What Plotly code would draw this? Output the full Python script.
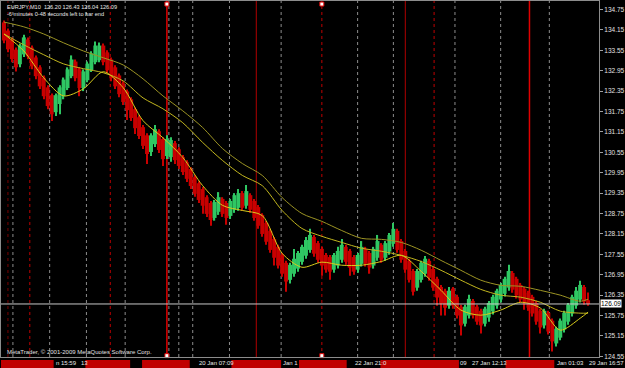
import plotly.graph_objects as go

# ---------------- data ----------------
# each bar below stands for a small group of the original bars (about 4 px of chart width)
bars = list(range(148))

open_ = [134.37,134.13,133.87,133.57,133.14,133.43,133.87,133.63,133.34,133.05,
         132.75,132.46,132.23,131.73,131.97,132.20,132.44,132.79,133.22,132.99,
         132.44,132.67,132.96,133.20,133.26,133.69,133.49,133.28,133.05,132.81,
         132.58,132.34,132.11,131.82,131.58,131.29,131.05,130.56,130.79,131.17,
         130.94,130.44,130.41,130.82,130.64,130.41,130.26,130.06,129.82,129.64,
         129.47,129.23,129.06,128.62,128.80,129.18,129.06,128.68,128.86,128.92,
         129.35,128.98,129.29,129.12,128.94,128.71,128.47,128.24,128.00,127.77,
         127.53,127.30,126.80,126.98,127.13,127.33,127.51,127.68,128.06,127.88,
         127.71,127.53,127.47,127.10,127.22,127.39,127.77,127.65,127.47,127.10,
         127.27,127.71,127.59,127.22,127.45,127.83,127.45,127.63,127.86,128.24,
         127.94,127.65,127.36,127.06,126.57,126.80,126.98,127.36,127.12,126.83,
         126.59,126.48,126.04,126.54,126.30,126.01,125.51,125.75,126.18,126.01,
         125.89,125.51,125.69,125.87,126.04,126.22,126.39,126.57,127.00,126.83,
         126.65,126.54,126.42,126.30,126.12,125.89,125.46,125.83,125.60,124.93,
         125.10,125.34,125.57,125.81,126.04,126.22,126.59,126.20]

close = [133.84,133.58,133.29,133.05,133.69,133.93,133.37,133.08,132.79,132.49,
         132.20,131.91,131.67,132.23,132.46,132.69,132.99,133.28,132.73,132.44,
         132.93,133.16,133.46,133.69,133.69,133.20,132.96,132.73,132.49,132.26,
         132.03,131.79,131.56,131.26,131.03,130.74,130.50,131.05,131.23,130.62,
         130.35,130.94,130.91,130.32,130.15,129.97,129.77,129.56,129.33,129.15,
         128.98,128.74,128.56,129.09,129.23,128.74,128.62,129.12,129.29,129.35,
         128.92,129.41,128.86,128.62,128.39,128.15,127.92,127.68,127.45,127.22,
         126.98,126.75,127.24,127.42,127.59,127.77,127.97,128.12,127.57,127.39,
         127.22,127.10,127.04,127.53,127.65,127.83,127.33,127.16,127.04,127.53,
         127.77,127.27,127.16,127.71,127.94,127.39,127.88,128.12,128.30,127.68,
         127.39,127.10,126.80,126.45,127.06,127.30,127.42,126.86,126.57,126.28,
         126.10,125.98,126.48,126.04,125.75,125.46,126.01,126.24,125.75,125.57,
         125.46,125.95,126.12,126.30,126.48,126.65,126.83,127.06,126.51,126.34,
         126.22,126.10,125.98,125.81,125.57,125.40,125.89,125.28,124.99,125.36,
         125.60,125.83,126.07,126.30,126.48,126.65,126.16,126.09]

high = [134.43,134.19,133.93,133.63,133.75,134.01,133.93,133.69,133.40,133.11,
        132.81,132.52,132.28,132.28,132.52,132.75,133.05,133.40,133.28,133.05,
        132.99,133.22,133.52,133.81,133.78,133.75,133.55,133.34,133.11,132.87,
        132.64,132.40,132.17,131.87,131.64,131.35,131.11,131.11,131.35,131.23,
        130.99,131.05,130.99,130.88,130.70,130.47,130.32,130.11,129.88,129.70,
        129.53,129.29,129.12,129.15,129.38,129.23,129.12,129.18,129.35,129.47,
        129.41,129.59,129.35,129.18,129.00,128.76,128.53,128.30,128.06,127.83,
        127.59,127.36,127.30,127.71,127.65,127.83,128.06,128.30,128.12,127.94,
        127.77,127.59,127.53,127.59,127.77,128.00,127.83,127.71,127.53,127.59,
        127.94,127.77,127.65,127.77,128.12,127.88,127.94,128.18,128.47,128.30,
        128.00,127.71,127.42,127.12,127.12,127.36,127.50,127.42,127.18,126.89,
        126.65,126.54,126.59,126.59,126.36,126.07,126.07,126.36,126.24,126.07,
        125.95,126.01,126.18,126.36,126.54,126.71,126.89,127.24,127.06,126.89,
        126.71,126.59,126.48,126.36,126.18,125.95,125.95,125.89,125.66,125.42,
        125.66,125.89,126.12,126.36,126.59,126.77,126.65,126.43]

low = [133.76,133.49,133.20,132.93,133.05,133.35,133.29,132.99,132.70,132.41,
       132.11,131.82,131.47,131.62,131.67,132.11,132.38,132.73,132.64,132.20,
       132.35,132.61,132.91,133.14,133.20,133.11,132.88,132.64,132.41,132.17,
       131.94,131.50,131.47,131.09,130.94,130.65,130.21,130.44,130.71,130.53,
       130.15,130.35,130.27,130.21,130.06,129.88,129.68,129.47,129.24,129.06,
       128.74,128.65,128.39,128.54,128.71,128.65,128.42,128.59,128.77,128.83,
       128.83,128.89,128.77,128.54,128.30,128.07,127.83,127.60,127.22,127.13,
       126.89,126.45,126.69,126.89,127.04,127.24,127.42,127.60,127.48,127.30,
       126.92,127.01,126.80,127.01,127.13,127.30,127.24,126.92,126.95,127.01,
       127.19,127.19,126.98,127.13,127.36,127.30,127.36,127.54,127.77,127.60,
       127.30,127.01,126.72,126.34,126.48,126.72,126.89,126.77,126.48,126.04,
       125.75,125.75,125.95,125.95,125.66,125.16,125.43,125.66,125.66,125.48,
       125.22,125.43,125.57,125.78,125.95,126.13,126.31,126.48,126.42,126.25,
       126.13,125.92,125.89,125.72,125.48,125.22,125.37,125.19,124.69,124.84,
       125.02,125.25,125.48,125.72,125.95,126.13,126.07,126.04]

# moving averages, sampled every 5 bars
ma_x = [0,5,10,15,20,25,30,35,40,45,50,55,60,65,70,75,80,85,90,95,100,105,110,115,120,125,130,135,140,145,147]
ma_slow = [134.38,134.24,134.03,133.77,133.53,133.33,133.12,132.71,132.21,131.77,131.28,130.66,130.22,129.87,129.22,
           128.75,128.52,128.25,128.02,127.99,127.90,127.67,127.37,127.08,126.79,126.64,126.61,126.49,126.35,126.17,126.23]
ma_mid = [134.03,133.71,133.42,133.15,133.01,132.89,132.65,132.15,131.83,131.42,130.84,130.31,129.87,129.57,128.84,
          128.31,128.08,127.90,127.73,127.64,127.52,127.34,127.08,126.79,126.52,126.35,126.29,126.14,125.88,125.82,125.82]
ma_fast = [134.03,133.53,132.74,132.21,132.42,132.92,132.45,131.48,130.98,130.40,129.57,128.99,128.84,128.69,127.58,
           127.17,127.32,127.23,127.23,127.34,127.52,127.05,126.49,125.91,125.76,125.91,126.14,125.97,125.32,125.67,125.85]

ytick_vals = [134.75,134.15,133.55,132.95,132.35,131.75,131.15,130.55,129.95,
              129.35,128.75,128.15,127.55,126.95,126.35,125.75,125.15,124.55]

time_labels = ["n 15:59", "13", "20 Jan 07:09", "Jan 1", "22 Jan 21:0", "09",
               "27 Jan 12:13", "Jan 01:03", "29 Jan 16:57"]
time_label_bars = [12.75, 19.25, 48.75, 70, 88, 114.5, 117.5, 139, 146.9]

gray_separators = [2.25, 11.5, 20.75, 30.5, 41.5, 44, 47.5, 56.75, 69.75, 89, 98, 113.5, 125, 137.25]
red_separators = [1, 6.5, 26.75, 41, 63.5, 80, 101, 108.25, 132.25]
red_styles = ["dot", "dot", "dot", "solid", "solid", "dot", "solid", "dot", "solid"]
red_widths = [1, 1, 1, 1.5, 1, 1, 1, 1, 1.5]
red_colors = ["#7a0000", "#c00000", "#c00000", "#e00000", "#b00000", "#c00000", "#b00000", "#c00000", "#e00000"]

last_price = 126.09
header1 = "EURJPY,M10  126.20 126.43 126.04 126.09"
header2 = "-6 minutes 0-48 seconds left to bar end"
copyright_txt = "MetaTrader, \u00a9 2001-2009 MetaQuotes Software Corp."

# ---------------- figure ----------------
W, H = 625, 368
ML, MR, MT, MB = 0, 23, 0, 11
PW, PH = W - ML - MR, H - MT - MB
FONT = "Liberation Sans"
UP, DOWN = "#2fc763", "#c80000"

colors = [UP if c >= o else DOWN for o, c in zip(open_, close)]
body_base = [min(o, c) for o, c in zip(open_, close)]
body_len = [abs(c - o) for o, c in zip(open_, close)]
wick_len = [h - l for h, l in zip(high, low)]

fig = go.Figure()
# wicks
fig.add_trace(go.Bar(x=bars, y=wick_len, base=low, width=0.3,
                     marker=dict(color=colors, line=dict(width=0)),
                     showlegend=False, hoverinfo="skip"))
# bodies
fig.add_trace(go.Bar(x=bars, y=body_len, base=body_base, width=1.0,
                     marker=dict(color=colors, line=dict(width=0)),
                     showlegend=False, hoverinfo="skip"))

for ys, col in [(ma_slow, "#9c9424"), (ma_mid, "#c2b61e"), (ma_fast, "#d8cc1c")]:
    fig.add_trace(go.Scatter(x=ma_x, y=ys, mode="lines",
                             line=dict(color=col, width=1, shape="spline", smoothing=0.8),
                             showlegend=False, hoverinfo="skip"))

# small object markers at the top/bottom of two separators
fig.add_trace(go.Scatter(x=[41, 41, 80, 80], y=[134.91, 124.57, 134.91, 124.57], mode="markers",
                         marker=dict(symbol="square", size=4, color="white",
                                     line=dict(color="#e00000", width=1)),
                         cliponaxis=False, showlegend=False, hoverinfo="skip"))

shapes = []
for xv in gray_separators:
    shapes.append(dict(type="line", xref="x", yref="paper", x0=xv, x1=xv, y0=0, y1=1,
                       line=dict(color="#8c8c8c", width=1, dash="dot"), layer="below"))
for xv, ds, wd, cl in zip(red_separators, red_styles, red_widths, red_colors):
    shapes.append(dict(type="line", xref="x", yref="paper", x0=xv, x1=xv, y0=0, y1=1,
                       line=dict(color=cl, width=wd, dash=ds), layer="below"))
# last price line
shapes.append(dict(type="line", xref="paper", yref="y", x0=0, x1=1, y0=last_price, y1=last_price,
                   line=dict(color="#c8c8c8", width=1), layer="above"))
# red blocks over the time scale
red_blocks_px = [(0, 53), (85, 130), (142, 190), (232, 282), (300, 348), (382, 461), (508, 557)]
for a, b in red_blocks_px:
    shapes.append(dict(type="rect", xref="paper", yref="paper", x0=a / PW, x1=b / PW,
                       y0=-(H - PH) / PH, y1=-3 / PH, fillcolor="#c00000", line=dict(width=0)))

annotations = []
annotations.append(dict(text=header1, xref="paper", yref="paper", x=4 / PW, y=1 - 6 / PH,
                        xanchor="left", yanchor="middle", showarrow=False,
                        font=dict(family=FONT, size=5.6, color="#e8e8e8")))
annotations.append(dict(text=header2, xref="paper", yref="paper", x=4 / PW, y=1 - 13 / PH,
                        xanchor="left", yanchor="middle", showarrow=False,
                        font=dict(family=FONT, size=5.6, color="#e8e8e8")))
annotations.append(dict(text=copyright_txt, xref="paper", yref="paper", x=4 / PW, y=1 - 352 / PH,
                        xanchor="left", yanchor="middle", showarrow=False,
                        font=dict(family=FONT, size=6, color="#e0e0e0")))
for t, xb in zip(time_labels, time_label_bars):
    annotations.append(dict(text=t, xref="x", yref="paper", x=xb, y=-6.5 / PH,
                            xanchor="left", yanchor="middle", showarrow=False, borderpad=0,
                            font=dict(family=FONT, size=6, color="#e8e8e8")))
annotations.append(dict(text="%.2f" % last_price, xref="paper", yref="y", x=1, y=last_price,
                        xanchor="left", yanchor="middle", xshift=1, showarrow=False,
                        bgcolor="#ffffff", borderpad=0,
                        font=dict(family=FONT, size=6.5, color="#000000")))

fig.update_layout(
    width=W, height=H,
    margin=dict(l=ML, r=MR, t=MT, b=MB, pad=0),
    paper_bgcolor="#000000", plot_bgcolor="#000000",
    showlegend=False, shapes=shapes, annotations=annotations,
    barmode="overlay",
    xaxis=dict(range=[-0.75, 149.75], showgrid=False,
               zeroline=False, showticklabels=False, ticks="", showline=True,
               linecolor="#8c8c8c", linewidth=1, mirror=True, fixedrange=True),
    yaxis=dict(range=[135.0 - PH / 34.1, 135.0], side="right", tickvals=ytick_vals,
               ticktext=["%.2f" % v for v in ytick_vals], ticks="outside", ticklen=3,
               tickcolor="#a0a0a0", tickfont=dict(family=FONT, size=6.5, color="#e0e0e0"),
               showgrid=False, zeroline=False, showline=True, linecolor="#8c8c8c",
               linewidth=1, mirror=True, fixedrange=True),
    font=dict(family=FONT),
)

fig.write_html("out.html")
